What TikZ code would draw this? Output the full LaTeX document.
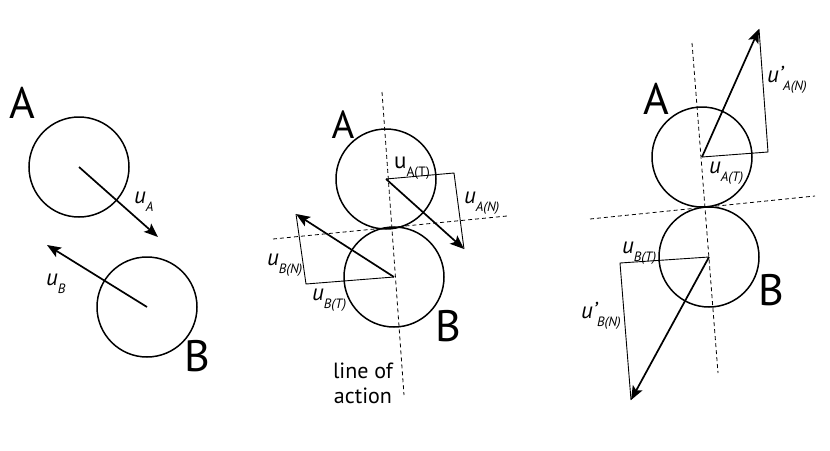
\documentclass[tikz,border=0pt]{standalone}
\usepackage{fontspec}
\setmainfont{PT Sans}
\usetikzlibrary{arrows.meta}
\newcommand{\ulab}[2]{#1\raisebox{-8pt}{\fontsize{13.5}{13.5}\selectfont #2}}
\begin{document}
\begin{tikzpicture}[x=1pt,y=-1pt,
  ball/.style={circle,draw,line width=1.5pt,minimum size=100pt,inner sep=0pt},
  vel/.style={line width=1.7pt,-{Stealth[length=14pt,width=11pt,inset=3pt]}},
  comp/.style={line width=0.9pt},
  axis/.style={line width=0.8pt,dash pattern=on 4pt off 3pt},
  big/.style={font=\fontsize{44}{44}\selectfont,inner sep=0pt},
  lab/.style={font=\fontsize{23}{23}\selectfont\itshape,inner sep=0pt,anchor=base west},
]
\useasboundingbox (0,0) rectangle (830,450);

% ---------- panel 1 ----------
\node[ball] (A1) at (79,167) {};
\node[ball] (B1) at (147,307) {};
\coordinate (A1e) at (158,237);
\coordinate (B1e) at (47,245);
\draw[vel] (A1.center) -- (A1e);
\draw[vel] (B1.center) -- (B1e);
\node[big] (A1l) at (22,103) {A};
\node[big] (B1l) at (197,356) {B};
\node[lab] (uA1) at (134,203) {\ulab{u}{A}};
\node[lab] (uB1) at (46,285) {\ulab{u}{B}};

% ---------- panel 2 ----------
\coordinate (L2t) at (382,92);
\coordinate (L2b) at (404,395);
\coordinate (T2l) at (273,239);
\coordinate (T2r) at (507,216);
\draw[axis] (L2t) -- (L2b);
\draw[axis] (T2l) -- (T2r);
\node[ball] (A2) at (386,179) {};
\node[ball] (B2) at (394,277) {};
\coordinate (A2e) at (464,249);
\coordinate (A2t) at (454,173);
\coordinate (B2e) at (296,214);
\coordinate (B2t) at (306,284);
\draw[comp] (A2.center) -- (A2t) -- (A2e);
\draw[comp] (B2.center) -- (B2t) -- (B2e);
\draw[vel] (A2.center) -- (A2e);
\draw[vel] (B2.center) -- (B2e);
\node[big,font=\fontsize{39}{39}\selectfont] (A2l) at (343,125) {A};
\node[big] (B2l) at (448,326) {B};
\node[lab,font=\fontsize{23}{23}\selectfont\upshape] (uAT2) at (394,168) {\ulab{u}{A(T)}};
\node[lab] (uAN2) at (464,203) {\ulab{u}{A(N)}};
\node[lab] (uBN2) at (267,265) {\ulab{u}{B(N)}};
\node[lab] (uBT2) at (312,300) {\ulab{u}{B(T)}};
\node[font=\fontsize{22}{25}\selectfont,align=center,inner sep=0pt] (loa) at (363,383) {line of\\action};

% ---------- panel 3 ----------
\coordinate (L3t) at (692,43);
\coordinate (L3b) at (718,373);
\coordinate (T3l) at (590,219);
\coordinate (T3r) at (815,196);
\draw[axis] (L3t) -- (L3b);
\draw[axis] (T3l) -- (T3r);
\node[ball] (A3) at (702,157) {};
\node[ball] (B3) at (709,257) {};
\coordinate (A3e) at (759,29);
\coordinate (A3t) at (768,152);
\coordinate (B3e) at (631,400);
\coordinate (B3t) at (620,263);
\draw[comp] (A3.center) -- (A3t) -- (A3e);
\draw[comp] (B3.center) -- (B3t) -- (B3e);
\draw[vel] (A3.center) -- (A3e);
\draw[vel] (B3.center) -- (B3e);
\node[big] (A3l) at (656,99) {A};
\node[big] (B3l) at (771,290) {B};
\node[lab] (uAN3) at (767,82) {\ulab{u'}{A(N)}};
\node[lab] (uAT3) at (709,173) {\ulab{u}{A(T)}};
\node[lab] (uBT3) at (622,253) {\ulab{u}{B(T)}};
\node[lab] (uBN3) at (581,318) {\ulab{u'}{B(N)}};
\end{tikzpicture}
\end{document}
